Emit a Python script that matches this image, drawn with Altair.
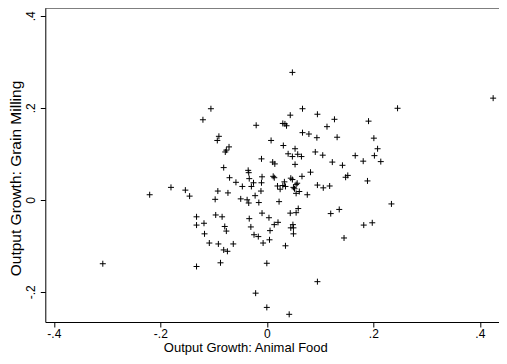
import altair as alt
import pandas as pd

# Output growth: Animal Food (x) vs Grain Milling (y)
x_vals = [0.048, 0.425, 0.2455, -0.105, 0.067, 0.095, 0.044, -0.120, 0.127, 0.191,
          -0.020, 0.030, 0.034, 0.037, 0.113, 0.067, 0.079, -0.090, -0.093, 0.094,
          0.132, 0.201, 0.008, 0.031, -0.071, -0.076, -0.078, 0.053, 0.208, 0.040,
          0.048, 0.058, 0.065, 0.091, 0.105, 0.166, 0.202, -0.010, 0.011, 0.015,
          0.053, 0.123, 0.181, 0.214, 0.142, -0.081, -0.035, -0.034, 0.082, 0.012,
          0.014, -0.009, -0.070, -0.058, -0.046, -0.033, -0.025, -0.029, -0.010, -0.011,
          -0.022, 0.045, 0.048, 0.066, 0.152, 0.148, 0.189, 0.020, 0.025, 0.033,
          0.030, 0.035, 0.050, 0.055, 0.057, 0.052, 0.061, 0.055, 0.076, 0.095,
          0.106, 0.118, -0.180, -0.153, -0.145, -0.220, -0.092, -0.073, -0.097, -0.049,
          -0.037, -0.034, -0.015, 0.023, 0.234, 0.059, 0.055, 0.044, 0.136, 0.120,
          -0.096, -0.084, -0.132, -0.118, -0.132, -0.033, -0.009, 0.004, 0.021, 0.014,
          0.049, 0.050, 0.045, 0.050, 0.182, 0.198, -0.079, -0.076, -0.030, 0.006,
          -0.117, -0.024, -0.016, 0.005, -0.007, -0.108, -0.091, -0.063, -0.081, -0.074,
          0.035, 0.145, -0.308, -0.132, -0.087, 0.000, 0.095, -0.021, 0.000, 0.042]
y_vals = [0.277, 0.221, 0.199, 0.198, 0.198, 0.186, 0.184, 0.174, 0.175, 0.171,
          0.162, 0.166, 0.165, 0.161, 0.159, 0.146, 0.143, 0.138, 0.129, 0.135,
          0.136, 0.134, 0.129, 0.118, 0.115, 0.108, 0.104, 0.111, 0.111, 0.100,
          0.094, 0.099, 0.094, 0.104, 0.097, 0.096, 0.096, 0.089, 0.082, 0.078,
          0.077, 0.082, 0.084, 0.083, 0.075, 0.070, 0.064, 0.059, 0.060, 0.051,
          0.048, 0.050, 0.048, 0.038, 0.029, 0.046, 0.037, 0.029, 0.037, 0.019,
          0.009, 0.047, 0.044, 0.051, 0.053, 0.049, 0.041, 0.030, 0.023, 0.039,
          0.031, 0.029, 0.027, 0.033, 0.036, 0.024, 0.018, 0.014, 0.011, 0.032,
          0.026, 0.030, 0.027, 0.021, 0.008, 0.011, 0.019, 0.015, 0.001, 0.002,
          0.000, -0.007, -0.006, -0.004, -0.009, -0.019, -0.028, -0.029, -0.021, -0.030,
          -0.033, -0.037, -0.037, -0.051, -0.055, -0.041, -0.029, -0.039, -0.049, -0.054,
          -0.054, -0.061, -0.061, -0.074, -0.055, -0.050, -0.058, -0.068, -0.059, -0.067,
          -0.074, -0.076, -0.080, -0.087, -0.094, -0.094, -0.096, -0.096, -0.109, -0.112,
          -0.100, -0.083, -0.139, -0.145, -0.137, -0.138, -0.178, -0.203, -0.234, -0.249]

tick_vals = [-0.4, -0.2, 0, 0.2, 0.4]
x_title = "Output Growth: Animal Food"
y_title = "Output Growth: Grain Milling"

df = pd.DataFrame({"x": x_vals, "y": y_vals})

label_expr = "replace(datum.value + '', '0.', '.')"

W = 453.7
H = 314

points = alt.Chart(df).mark_point(
    shape="M-1,0H1M0,-1V1",
    size=36,
    filled=False,
    color="black",
    strokeWidth=1,
    opacity=1,
).encode(
    x=alt.X("x:Q",
            scale=alt.Scale(domain=[-0.416, 0.436], nice=False, zero=False),
            axis=alt.Axis(values=tick_vals, labelExpr=label_expr, grid=False,
                          title=x_title, tickSize=5, labelPadding=1,
                          labelFontSize=12, labelFont="Liberation Sans",
                          labelColor="black", tickColor="black", domainColor="black",
                          titleFont="Liberation Sans", titleFontSize=13,
                          titleFontWeight="normal", titleColor="black",
                          titleX=200, titleY=29, titleBaseline="alphabetic",
                          titleAnchor="middle", labelFlush=False)),
    y=alt.Y("y:Q",
            scale=alt.Scale(domain=[-0.2657, 0.417], nice=False, zero=False),
            axis=alt.Axis(values=tick_vals[1:], labelExpr=label_expr, grid=False,
                          title=y_title, tickSize=5, labelPadding=10,
                          labelAngle=270, labelAlign="center", labelBaseline="middle",
                          labelFontSize=12, labelFont="Liberation Sans",
                          labelColor="black", tickColor="black", domainColor="black",
                          titleFont="Liberation Sans", titleFontSize=15.5,
                          titleFontWeight="normal", titleColor="black",
                          titleAngle=270, titleX=-30, titleY=170,
                          titleBaseline="middle", titleAlign="center",
                          labelFlush=False)),
)

top_line = alt.Chart().mark_rule(color="black", strokeWidth=1).encode(
    x=alt.value(0), x2=alt.value(W + 2), y=alt.value(0)
)

chart = alt.layer(points, top_line).properties(
    width=W,
    height=H,
    padding={"left": 37.3, "top": 0, "right": 0, "bottom": 34},
    autosize=alt.AutoSizeParams(type="none"),
).configure_view(
    strokeWidth=0,
)

chart.save("out.html", embed_options={"renderer": "svg", "actions": False})
